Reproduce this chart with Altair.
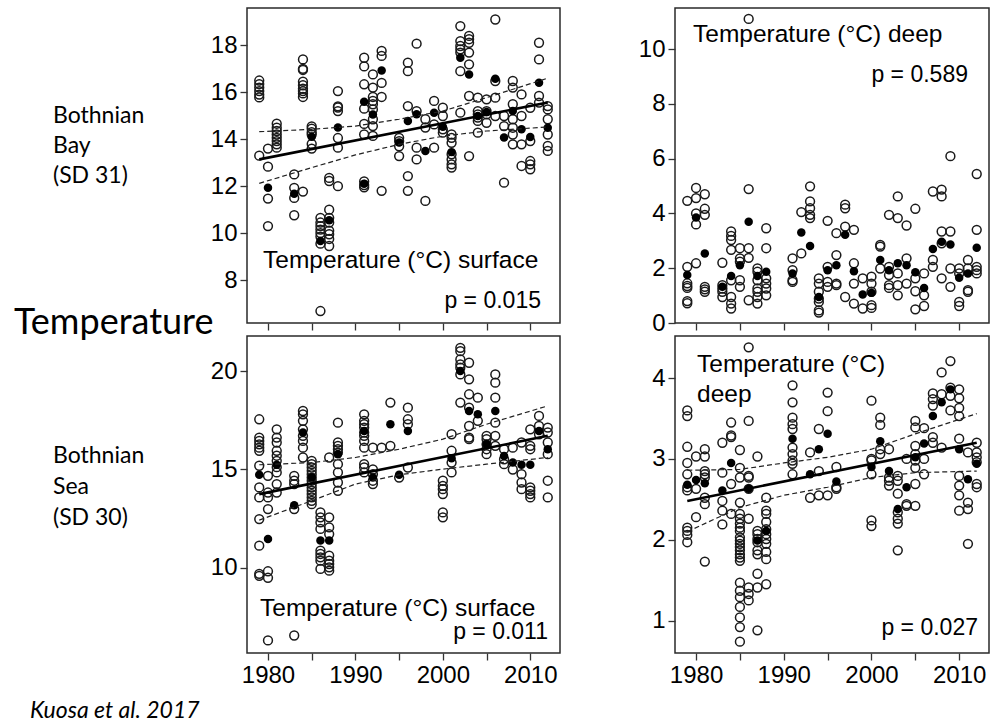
import altair as alt
import pandas as pd

# ---------------- data ----------------
YEAR_DOMAIN = [1977.6, 2013.4]
X_TICKS = [1980, 1985, 1990, 1995, 2000, 2005, 2010]
FIT_YEARS = [1979, 2012]
CI_YEARS = [1979, 1985, 1990, 1995, 2000, 2005, 2012]

# Bothnian Bay (SD 31) - surface temperature
bb_surface_open = {
    1979: [16.5, 16.35, 16.2, 16.05, 15.9, 15.78, 13.3],
    1980: [13.6, 12.83, 11.47, 10.3],
    1981: [14.66, 14.49, 14.35, 14.2, 14.06, 13.92, 13.78, 13.64],
    1983: [12.5, 11.93, 11.5, 10.76],
    1984: [17.4, 17.0, 16.95, 16.45, 16.3, 16.15, 16.05, 15.95, 15.8, 11.77],
    1985: [14.55, 14.45, 14.3, 14.2, 13.8, 13.6],
    1986: [10.65, 10.45, 10.3, 10.15, 10.0, 9.85, 9.55, 6.68],
    1987: [12.35, 12.22, 11.0, 10.65, 10.45, 10.1, 9.95, 9.75, 9.45],
    1988: [16.05, 15.4, 15.35, 15.2, 14.05, 13.64, 12.0],
    1991: [17.47, 17.1, 16.34, 15.3, 14.65, 14.2, 12.2, 12.05, 11.95],
    1992: [16.76, 16.2, 15.8, 15.63, 15.49, 15.27, 14.85, 14.56, 14.14],
    1993: [17.76, 17.55, 16.4, 15.8, 11.8],
    1995: [14.06, 13.92, 13.7, 13.28],
    1996: [17.26, 16.9, 15.41, 12.43, 11.8],
    1997: [18.07, 15.2, 13.64, 13.14],
    1998: [14.85, 14.5, 11.37],
    1999: [15.63, 14.63, 13.64],
    2000: [15.34, 14.99, 14.42, 14.28],
    2001: [14.2, 14.06, 13.85, 13.36, 13.14, 12.93, 12.79],
    2002: [18.82, 18.18, 17.97, 17.83, 17.69, 16.9, 15.13],
    2003: [18.4, 18.26, 18.11, 17.69, 17.19, 15.84, 13.28],
    2004: [15.77, 15.2, 15.06, 14.92, 14.78, 14.28],
    2005: [15.7, 15.2, 15.06, 14.7],
    2006: [19.1, 16.48, 15.77, 14.99],
    2007: [14.99, 14.56, 12.15],
    2008: [16.48, 16.2, 15.49, 14.85, 14.49, 14.2, 13.78],
    2009: [15.91, 14.99, 13.78, 12.86],
    2010: [15.34, 13.92, 13.07, 12.93, 12.72],
    2011: [18.11, 17.4, 15.84, 15.56],
    2012: [15.41, 15.27, 14.85, 14.2, 13.71, 13.5],
}
bb_surface_mean = {
    1980: [11.93], 1983: [11.68], 1985: [14.1], 1986: [9.66], 1987: [10.55],
    1988: [14.5], 1991: [15.6, 12.1], 1992: [15.05], 1993: [16.93], 1995: [13.86],
    1996: [14.78], 1997: [15.06], 1998: [13.5], 1999: [15.13], 2000: [14.53],
    2001: [13.45], 2002: [17.47], 2003: [16.76], 2004: [14.99], 2005: [15.16],
    2006: [16.58], 2007: [14.07], 2008: [15.2], 2009: [14.42], 2010: [14.09],
    2011: [16.41], 2012: [14.49],
}
bb_surface_fit = [13.14, 15.56]
bb_surface_ci_upper = [14.32, 14.42, 14.56, 14.85, 15.2, 15.77, 16.6]
bb_surface_ci_lower = [12.12, 12.79, 13.33, 13.78, 14.13, 14.35, 14.52]

# Bothnian Bay (SD 31) - deep temperature
bb_deep_open = {
    1979: [4.46, 2.05, 1.45, 1.35, 1.28, 0.8, 0.72],
    1980: [4.93, 4.56, 4.0, 3.6, 2.18],
    1981: [4.7, 4.17, 3.95, 1.32, 1.23, 1.14],
    1983: [2.2, 1.38, 1.26, 1.14, 0.95],
    1984: [3.34, 3.18, 3.03, 2.67, 1.56, 0.95, 0.71, 0.53],
    1985: [2.73, 2.36, 2.24, 1.56, 1.32],
    1986: [11.1, 4.89, 2.73, 2.38, 0.83],
    1987: [1.99, 1.87, 1.56, 1.26, 1.14, 0.95, 0.71],
    1988: [3.46, 2.73, 1.63, 1.44, 1.26, 1.01],
    1991: [2.36, 1.93, 1.56, 1.5],
    1992: [4.05, 2.54],
    1993: [4.99, 4.44, 4.19, 3.95, 3.83],
    1994: [1.63, 1.44, 1.14, 0.89, 0.77, 0.46, 0.38],
    1995: [3.73, 2.05, 1.5, 1.32],
    1996: [3.28, 2.48, 1.44, 1.38],
    1997: [4.32, 4.19, 3.52, 0.95],
    1998: [3.4, 2.18, 1.44, 0.71],
    1999: [1.63, 0.53],
    2000: [1.69, 1.44, 1.14, 0.65, 0.55],
    2001: [2.85, 2.79, 1.99],
    2002: [3.95, 2.05, 1.75, 1.38, 1.28],
    2003: [4.62, 3.83, 1.81, 1.38, 1.01],
    2004: [3.56, 2.36, 1.44],
    2005: [4.17, 1.63, 1.16, 0.5],
    2006: [1.81, 1.01, 0.62],
    2007: [4.8, 2.3, 2.05],
    2008: [4.87, 4.62, 3.34, 2.91, 1.63],
    2009: [6.09, 3.34, 1.99, 1.32],
    2010: [1.99, 1.81, 0.77, 0.62],
    2011: [2.3, 1.99, 1.2, 1.14],
    2012: [5.44, 3.4, 2.05, 1.93, 1.81],
}
bb_deep_mean = {
    1979: [1.75], 1980: [3.85], 1981: [2.54], 1983: [1.32], 1984: [1.72],
    1985: [2.11], 1986: [3.7], 1987: [1.72], 1988: [1.87], 1991: [1.81],
    1992: [3.3], 1993: [2.81], 1994: [0.95], 1995: [1.93], 1996: [2.11],
    1997: [3.22], 1998: [1.89], 1999: [1.04], 2000: [1.1], 2001: [2.3],
    2002: [1.93], 2003: [2.18], 2004: [2.11], 2005: [1.85], 2006: [1.28],
    2007: [2.7], 2008: [2.97], 2009: [2.87], 2010: [1.65], 2011: [1.81],
    2012: [2.75],
}

# Bothnian Sea (SD 30) - surface temperature
bs_surface_open = {
    1979: [17.55, 16.62, 16.45, 16.28, 16.11, 15.95, 15.19, 14.09, 13.58, 12.48, 11.13, 9.7, 9.6],
    1980: [14.68, 13.83, 13.58, 12.99, 9.83, 9.5, 6.32],
    1981: [17.04, 16.62, 16.37, 15.95, 15.7, 15.44, 15.12, 14.85, 14.26, 13.83],
    1983: [14.68, 14.43, 14.26, 12.99, 6.57],
    1984: [17.97, 17.8, 17.47, 17.04, 16.71, 16.45, 16.11, 15.61],
    1985: [15.44, 15.27, 15.1, 14.93, 14.76, 14.59, 14.43, 14.26, 14.09, 13.92,
           13.75, 13.58, 13.41, 13.24],
    1986: [12.82, 12.57, 12.31, 11.98, 10.88, 10.71, 10.54, 10.37, 9.95],
    1987: [15.61, 12.57, 12.06, 11.72, 10.62, 10.37, 10.2, 10.03, 9.86],
    1988: [17.38, 16.37, 16.2, 16.03, 15.86, 15.27, 14.85, 14.34, 13.92],
    1991: [17.8, 17.47, 17.3, 17.13, 16.88, 16.71, 16.45, 16.11, 15.27, 15.1, 14.85],
    1992: [16.11, 15.0, 14.76, 14.43, 14.26],
    1993: [16.11],
    1994: [18.4, 16.2],
    1995: [14.59],
    1996: [18.14, 17.55, 17.3, 15.1],
    2000: [14.43, 14.17, 14.0, 13.75, 12.82, 12.57],
    2001: [16.79, 15.95, 15.35, 14.85],
    2002: [21.18, 21.01, 20.59, 20.34, 20.17, 19.83, 18.4],
    2003: [20.42, 19.58, 18.82, 18.14, 17.21, 16.62, 16.54],
    2004: [18.65, 17.47],
    2005: [16.71, 16.54, 16.28, 16.03, 15.78],
    2006: [19.83, 19.41, 18.65, 17.38, 16.71, 16.2],
    2007: [16.03, 15.52, 15.27],
    2008: [16.11, 15.0],
    2009: [16.37, 14.76, 14.34, 14.0],
    2010: [17.04, 16.2, 16.03, 14.09, 13.92, 13.75, 13.58],
    2011: [17.72, 17.21, 16.79],
    2012: [17.13, 16.88, 16.37, 15.78, 14.43, 13.58],
}
bs_surface_mean = {
    1979: [14.73], 1980: [11.47], 1981: [15.24], 1983: [13.19], 1984: [16.88],
    1985: [14.6], 1986: [11.39], 1987: [11.39], 1988: [15.78], 1991: [16.96],
    1992: [14.59], 1994: [17.3], 1995: [14.73], 1996: [16.96], 2001: [15.57],
    2002: [20.0], 2003: [17.97], 2004: [17.8], 2005: [16.28], 2006: [17.97],
    2007: [15.69], 2008: [15.35], 2009: [15.24], 2010: [15.24], 2011: [16.96],
    2012: [16.03],
}
bs_surface_fit = [13.75, 16.71]
bs_surface_ci_upper = [15.24, 15.35, 15.61, 16.03, 16.54, 17.3, 18.23]
bs_surface_ci_lower = [12.43, 13.41, 14.26, 14.73, 15.02, 15.27, 15.61]

# Bothnian Sea (SD 30) - deep temperature
bs_deep_open = {
    1979: [3.6, 3.53, 3.15, 2.95, 2.81, 2.65, 2.61, 2.15, 2.11, 2.06, 1.97],
    1980: [3.03, 2.63, 2.28],
    1981: [3.12, 3.03, 2.85, 2.81, 2.77, 2.52, 2.44, 1.73],
    1983: [3.2, 2.83, 2.48, 2.36, 2.19],
    1984: [3.45, 3.29, 3.27, 2.69, 2.32],
    1985: [3.11, 2.89, 2.77, 2.46, 2.32, 2.26, 2.2, 2.15, 2.11, 2.03, 1.99, 1.95,
           1.91, 1.87, 1.82, 1.78, 1.74, 1.47, 1.37, 1.29, 1.17, 1.04, 0.92, 0.74],
    1986: [4.38, 3.47, 2.79, 2.77, 2.63, 2.26, 1.41, 1.33, 1.25],
    1987: [3.03, 2.11, 2.07, 2.01, 1.97, 1.87, 1.82, 1.58, 1.41, 0.88],
    1988: [2.52, 2.36, 2.32, 2.22, 2.13, 2.07, 2.01, 1.95, 1.85, 1.76, 1.45],
    1991: [3.91, 3.7, 3.51, 3.43, 3.37, 3.14, 3.06, 2.98, 2.94, 2.81],
    1993: [3.08, 2.52],
    1994: [3.37, 2.85, 2.55],
    1995: [3.82, 3.59, 2.55],
    1996: [2.9, 2.65, 2.63],
    2000: [3.72, 3.0, 2.98, 2.81, 2.24, 2.17],
    2001: [3.51, 3.42, 3.12, 3.06],
    2002: [3.12, 2.77, 2.73, 2.67],
    2003: [2.79, 2.73, 2.57, 2.34, 2.26, 2.2, 1.87],
    2004: [3.0, 2.44, 2.42],
    2005: [3.47, 3.39, 3.16, 3.06, 2.98, 2.89, 2.69, 2.42],
    2006: [3.38, 3.0, 2.81],
    2007: [3.81, 3.74, 3.66, 3.27, 3.2],
    2008: [4.07, 3.8, 3.14],
    2009: [4.21, 3.88, 3.78, 3.6],
    2010: [3.86, 3.75, 3.63, 3.53, 3.25, 2.79, 2.67, 2.55, 2.36],
    2011: [3.08, 2.46, 2.38, 1.95],
    2012: [3.2, 3.08, 3.02, 2.96, 2.69, 2.65],
}
bs_deep_mean = {
    1979: [2.68], 1980: [2.74], 1981: [2.7], 1983: [2.61], 1984: [2.95],
    1986: [2.63], 1987: [1.99], 1988: [2.11], 1991: [3.25], 1993: [2.81],
    1994: [3.12], 1995: [3.31], 1996: [2.72], 2000: [2.9], 2001: [3.22],
    2002: [2.85], 2003: [2.38], 2004: [2.65], 2005: [3.02], 2006: [3.19],
    2007: [3.53], 2008: [3.7], 2009: [3.86], 2010: [3.12], 2011: [2.75],
    2012: [2.94],
}
bs_deep_fit = [2.48, 3.2]
bs_deep_ci_upper = [2.86, 2.87, 2.95, 3.02, 3.12, 3.31, 3.56]
bs_deep_ci_lower = [2.1, 2.4, 2.55, 2.65, 2.77, 2.83, 2.85]

# ---------------- chart building ----------------
AXIS_FONT = "Liberation Sans"
SIDE_FONT = "Lato"
INK = "#1a1a1a"


def to_df(d):
    return pd.DataFrame([{"year": y, "value": v} for y, vs in d.items() for v in vs])


def note(text, x, y, size=24.5, align="left", font=AXIS_FONT, style="normal", line_height=None):
    kw = dict(align=align, baseline="alphabetic", font=font, fontSize=size,
              fontStyle=style, color="black", lineBreak="\n")
    if line_height:
        kw["lineHeight"] = line_height
    return (alt.Chart(pd.DataFrame({"t": [text]}))
            .mark_text(**kw)
            .encode(text="t:N", x=alt.value(x), y=alt.value(y)))


def panel(open_d, mean_d, ydomain, yticks, w, h, xlabels, notes,
          fit=None, ci_up=None, ci_lo=None):
    xs = alt.Scale(domain=YEAR_DOMAIN, nice=False, zero=False)
    ys = alt.Scale(domain=ydomain, nice=False, zero=False)
    if xlabels:
        xaxis = alt.Axis(values=X_TICKS, title=None, format="d", labelOverlap=False,
                         labelExpr="datum.value % 10 === 0 ? datum.label : ''")
    else:
        xaxis = alt.Axis(values=X_TICKS, title=None, labels=False)
    yaxis = alt.Axis(values=yticks, title=None, format="d", labelOverlap=False)

    def enc(ch):
        return ch.encode(x=alt.X("year:Q", scale=xs, axis=xaxis),
                         y=alt.Y("value:Q", scale=ys, axis=yaxis))

    layers = [
        enc(alt.Chart(to_df(open_d))
            .mark_point(shape="circle", filled=False, size=78, strokeWidth=1.5,
                        color=INK, opacity=1)),
        enc(alt.Chart(to_df(mean_d))
            .mark_circle(size=72, color="black", opacity=1)),
    ]
    if fit is not None:
        ci = pd.DataFrame({
            "year": CI_YEARS * 2,
            "value": ci_up + ci_lo,
            "band": ["upper"] * len(CI_YEARS) + ["lower"] * len(CI_YEARS),
        })
        layers.append(
            enc(alt.Chart(ci).mark_line(color="#222", strokeWidth=1.2, strokeDash=[5, 3]))
            .encode(detail="band:N"))
        layers.append(
            enc(alt.Chart(pd.DataFrame({"year": FIT_YEARS, "value": fit}))
                .mark_line(color="black", strokeWidth=2.6)))
    layers.extend(notes)
    return alt.layer(*layers).properties(width=w, height=h)


p1 = panel(
    bb_surface_open, bb_surface_mean, [6.17, 19.59], [8, 10, 12, 14, 16, 18],
    313, 315, False,
    [note("Temperature (°C) surface", 16, 260),
     note("p = 0.015", 294, 300, size=23, align="right"),
     note("Bothnian\nBay\n(SD 31)", -194, 115, size=23, font=SIDE_FONT, line_height=30),
     note("Temperature", -233, 326, size=36, font=SIDE_FONT)],
    bb_surface_fit, bb_surface_ci_upper, bb_surface_ci_lower)

p2 = panel(
    bb_deep_open, bb_deep_mean, [0, 11.5], [0, 2, 4, 6, 8, 10],
    314, 315, False,
    [note("Temperature (°C) deep", 18, 34),
     note("p = 0.589", 293, 74, size=23, align="right")])

p3 = panel(
    bs_surface_open, bs_surface_mean, [5.68, 21.78], [10, 15, 20],
    313, 317, True,
    [note("Temperature (°C) surface", 13, 280),
     note("p = 0.011", 301, 303, size=23, align="right"),
     note("Bothnian\nSea\n(SD 30)", -194, 127, size=23, font=SIDE_FONT, line_height=31),
     note("Kuosa et al. 2017", -217, 382, size=23, font=SIDE_FONT, style="italic")],
    bs_surface_fit, bs_surface_ci_upper, bs_surface_ci_lower)

p4 = panel(
    bs_deep_open, bs_deep_mean, [0.6, 4.52], [1, 2, 3, 4],
    314, 317, True,
    [note("Temperature (°C)\ndeep", 22, 36, line_height=30),
     note("p = 0.027", 303, 299, size=23, align="right")],
    bs_deep_fit, bs_deep_ci_upper, bs_deep_ci_lower)

chart = (
    alt.concat(p1, p2, p3, p4, columns=2,
               spacing={"row": 13, "column": 115},
               bounds="flush", align="each")
    .properties(padding={"left": 13, "top": 7, "right": 5, "bottom": 2},
                background="white")
    .configure_view(stroke="#2a2a2a", strokeWidth=1.5)
    .configure_axis(grid=False, domain=False, ticks=True, tickColor="#333",
                    tickWidth=1.3, tickSize=7, labelFont=AXIS_FONT, labelFontSize=24,
                    labelColor="black", labelPadding=3)
)

chart.save("out.html", embed_options={"renderer": "svg", "actions": False})
